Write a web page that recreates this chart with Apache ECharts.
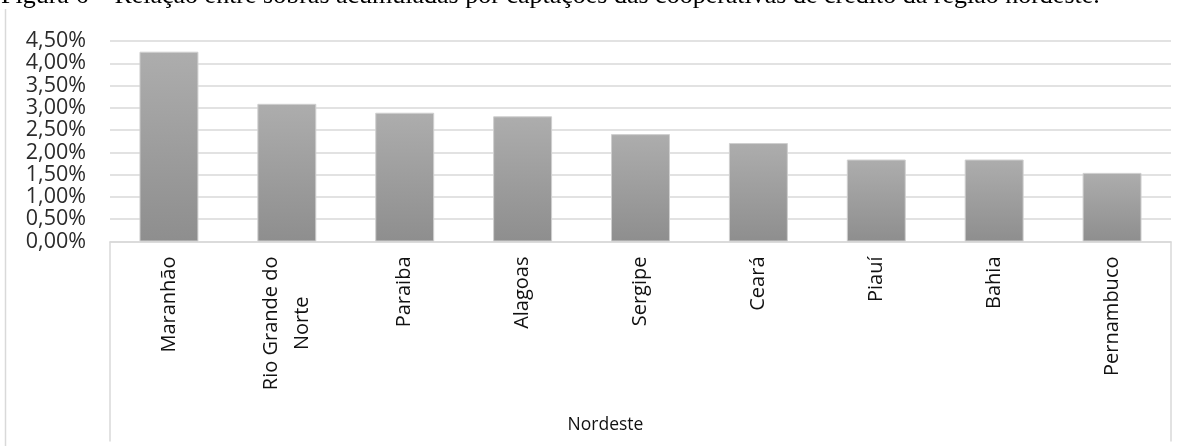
<!DOCTYPE html>
<html>
<head>
<meta charset="utf-8">
<script src="https://cdn.jsdelivr.net/npm/echarts@6/dist/echarts.min.js"></script>
<style>
  html, body { margin: 0; padding: 0; background: #fff; }
  #chart { width: 1195px; height: 446px; }
</style>
</head>
<body>
<div id="chart"></div>
<script>
// Caption and group label
const figureTitle = 'Figura 6 – Relação entre sobras acumuladas por captações das cooperativas de crédito da região nordeste.';
const groupName = 'Nordeste';

// States of the Nordeste region and their ratio (%) of accumulated surplus to deposits
const states = ['Maranhão', 'Rio Grande do Norte', 'Paraiba', 'Alagoas', 'Sergipe', 'Ceará', 'Piauí', 'Bahia', 'Pernambuco'];
const ratioPct = [4.26, 3.09, 2.89, 2.81, 2.41, 2.21, 1.84, 1.84, 1.54];

// Value axis range and step (%)
const yMin = 0;
const yMax = 4.5;
const yStep = 0.5;

const labelFont = 'Open Sans';
const gridColor = '#d9d9d9';
const textColor = '#111111';

// Long category names wrap onto two lines, the second centred under the first
function wrapLabel(name) {
  if (name.length <= 14) return name;
  const words = name.split(' ');
  let first = '';
  while (words.length && (first + ' ' + words[0]).trim().length <= 13) {
    first = (first + ' ' + words.shift()).trim();
  }
  return '{l1|' + first + '}\n{l2|' + words.join(' ') + '}';
}

const chart = echarts.init(document.getElementById('chart'), null, { renderer: 'canvas' });

chart.setOption({
  animation: false,
  backgroundColor: '#ffffff',
  graphic: [
    // Figure caption, running off the top edge of the page
    {
      type: 'text',
      z: 10,
      style: {
        text: figureTitle,
        x: 1,
        y: -3.5,
        verticalAlign: 'middle',
        align: 'left',
        font: '26px "Liberation Serif"',
        fill: '#000000'
      }
    },
    // Left edge of the chart frame
    { type: 'line', shape: { x1: 5.5, y1: 9, x2: 5.5, y2: 446 }, style: { stroke: gridColor, lineWidth: 1.5 } }
  ],
  grid: [
    { left: 110, right: 24, top: 41, bottom: 204.5 },
    { left: 110, right: 24, top: 242, height: 199 }
  ],
  xAxis: [
    {
      type: 'category',
      gridIndex: 0,
      data: states,
      name: groupName,
      nameLocation: 'middle',
      nameGap: 175,
      nameTextStyle: { fontFamily: labelFont, fontSize: 17.5, color: textColor, padding: [0, 70, 0, 0] },
      axisLine: { show: true, lineStyle: { color: gridColor, width: 1.5 } },
      axisTick: { show: false },
      axisLabel: {
        rotate: 90,
        margin: 15,
        interval: 0,
        fontFamily: labelFont,
        fontSize: 20,
        color: textColor,
        formatter: wrapLabel,
        rich: {
          l1: { fontFamily: labelFont, fontSize: 20, lineHeight: 31, color: textColor },
          l2: { fontFamily: labelFont, fontSize: 20, lineHeight: 31, color: textColor, padding: [0, 40, 0, 0] }
        }
      }
    },
    { type: 'value', gridIndex: 1, show: false, min: 0, max: 1 }
  ],
  yAxis: [
    {
      type: 'value',
      gridIndex: 0,
      min: yMin,
      max: yMax,
      interval: yStep,
      axisLine: { show: false },
      axisTick: { show: false },
      axisLabel: {
        margin: 24,
        fontFamily: labelFont,
        fontSize: 21.5,
        color: '#2b2b2b',
        formatter: v => v.toFixed(2).replace('.', ',') + '%'
      },
      splitLine: { show: true, lineStyle: { color: gridColor, width: 1.5 } }
    },
    {
      type: 'value', gridIndex: 1, position: 'left', min: 0, max: 1,
      axisLine: { show: true, lineStyle: { color: gridColor, width: 1.5 } },
      axisTick: { show: false }, axisLabel: { show: false }, splitLine: { show: false }
    },
    {
      type: 'value', gridIndex: 1, position: 'right', min: 0, max: 1,
      axisLine: { show: true, lineStyle: { color: gridColor, width: 1.5 } },
      axisTick: { show: false }, axisLabel: { show: false }, splitLine: { show: false }
    }
  ],
  series: [
    {
      type: 'bar',
      xAxisIndex: 0,
      yAxisIndex: 0,
      data: ratioPct,
      barWidth: '50%',
      itemStyle: {
        color: new echarts.graphic.LinearGradient(0, 0, 0, 1, [
          { offset: 0, color: '#adadad' },
          { offset: 1, color: '#8e8e8e' }
        ]),
        borderColor: '#cfcfcf',
        borderWidth: 1
      }
    }
  ]
});
</script>
</body>
</html>
